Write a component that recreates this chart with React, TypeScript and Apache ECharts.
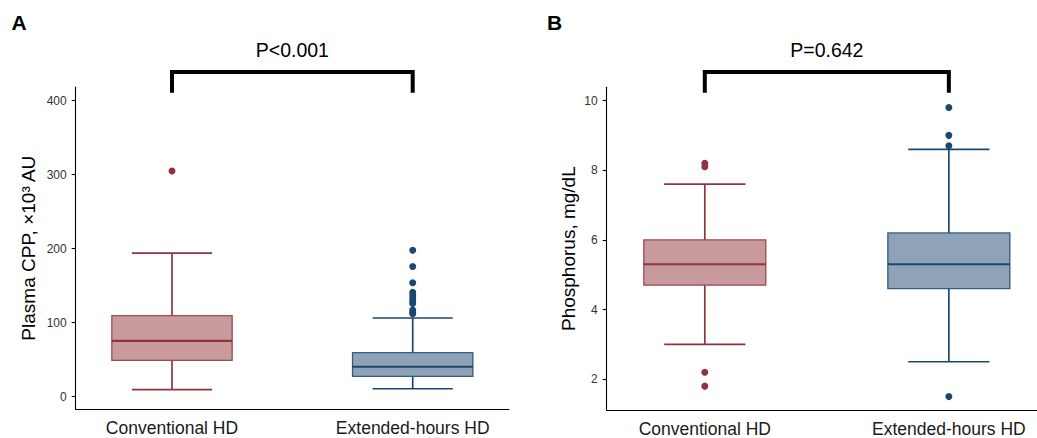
import React, { useEffect, useRef } from 'react';
import * as echarts from 'echarts';

const categories = ['Conventional HD', 'Extended-hours HD'];
// five-number summaries: [lower whisker, Q1, median, Q3, upper whisker]
const cppConventional = [9.5, 49, 75.5, 109.5, 194];
const cppExtended = [10.8, 27.6, 40.5, 59.5, 106.4];
const cppConvOutliers = [305];
const cppExtOutliers = [198, 176, 154, 141, 137, 133, 129, 126, 117, 114, 112];
const phosConventional = [3.0, 4.7, 5.3, 6.0, 7.6];
const phosExtended = [2.5, 4.6, 5.3, 6.2, 8.6];
const phosConvOutliers = [8.2, 8.1, 2.2, 1.8];
const phosExtOutliers = [9.8, 9.0, 8.7, 1.5];
const cppTicks = [0, 100, 200, 300, 400];
const phosTicks = [2, 4, 6, 8, 10];
const pLabels = ['P<0.001', 'P=0.642'];
const panelLabels = ['A', 'B'];
const yNames = ['Plasma CPP, ×10³ AU', 'Phosphorus, mg/dL'];

const RED_LINE = '#8F343D';
const RED_FILL = '#C89A9C';
const BLUE_LINE = '#1B4770';
const BLUE_FILL = '#8EA3B7';
const LINE_COLORS = [RED_LINE, BLUE_LINE];
const FILL_COLORS = [RED_FILL, BLUE_FILL];
const BOX_W = 0.5;
const CAP_W = 0.333;
const FONT = '"Liberation Sans", Arial, Helvetica, sans-serif';

const renderBox = (params: any, api: any) => {
  const x = api.value(0);
  const low = api.value(1);
  const q1 = api.value(2);
  const med = api.value(3);
  const q3 = api.value(4);
  const high = api.value(5);
  const bw = api.size([BOX_W, 0])[0];
  const cw = api.size([CAP_W, 0])[0];
  const cx = api.coord([x, med])[0];
  const yLow = api.coord([x, low])[1];
  const yQ1 = api.coord([x, q1])[1];
  const yMed = api.coord([x, med])[1];
  const yQ3 = api.coord([x, q3])[1];
  const yHigh = api.coord([x, high])[1];
  const col = LINE_COLORS[params.dataIndex];
  const fill = FILL_COLORS[params.dataIndex];
  const ls = { stroke: col, lineWidth: 1.7 };
  return {
    type: 'group',
    children: [
      { type: 'line', shape: { x1: cx, y1: yQ3, x2: cx, y2: yHigh }, style: ls },
      { type: 'line', shape: { x1: cx, y1: yQ1, x2: cx, y2: yLow }, style: ls },
      { type: 'line', shape: { x1: cx - cw / 2, y1: yHigh, x2: cx + cw / 2, y2: yHigh }, style: ls },
      { type: 'line', shape: { x1: cx - cw / 2, y1: yLow, x2: cx + cw / 2, y2: yLow }, style: ls },
      {
        type: 'rect',
        shape: { x: cx - bw / 2, y: yQ3, width: bw, height: yQ1 - yQ3 },
        style: { fill, stroke: col, lineWidth: 1.3, strokeOpacity: 0.85 } as any,
      },
      { type: 'line', shape: { x1: cx - bw / 2, y1: yMed, x2: cx + bw / 2, y2: yMed }, style: { stroke: col, lineWidth: 2.2 } },
    ],
  };
};

const boxData = (a: number[], b: number[]) => [[1, ...a], [2, ...b]];

export default function App() {
  const ref = useRef<HTMLDivElement>(null);
  useEffect(() => {
    document.body.style.margin = '0';
    if (!ref.current) return;
    const chart = echarts.init(ref.current, null, { renderer: 'svg' });

    const xAxisCommon = (gridIndex: number, min: number, max: number) => ({
      type: 'value',
      gridIndex,
      min,
      max,
      axisLine: { show: true, onZero: false, lineStyle: { color: '#000', width: 1.1 } },
      axisTick: { show: false },
      splitLine: { show: false },
      axisLabel: {
        customValues: [1, 2],
        formatter: (v: number) => categories[Math.round(v) - 1] ?? '',
        fontSize: 17.5,
        fontFamily: FONT,
        color: '#1a1a1a',
        margin: 10,
      },
    });
    const yAxisCommon = (gridIndex: number, min: number, max: number, ticks: number[], name: string, nameGap: number) => ({
      type: 'value',
      gridIndex,
      min,
      max,
      name,
      nameLocation: 'middle',
      nameGap,
      nameTextStyle: { fontSize: 19, fontFamily: FONT, color: '#000' },
      axisLine: { show: true, onZero: false, lineStyle: { color: '#000', width: 1.1 } },
      axisTick: { show: true, length: 4, customValues: ticks, lineStyle: { color: '#000', width: 1.1 } },
      splitLine: { show: false },
      axisLabel: { customValues: ticks, fontSize: 12, fontFamily: FONT, color: '#333', margin: 9 },
    });

    const scatter = (xi: number, cat: number, vals: number[], color: string) => ({
      type: 'scatter',
      xAxisIndex: xi,
      yAxisIndex: xi,
      symbolSize: 7,
      itemStyle: { color, opacity: 1 },
      data: vals.map((v) => [cat, v]),
      z: 3,
    });

    const option: any = {
      animation: false,
      textStyle: { fontFamily: FONT },
      grid: [
        { left: 75.7, top: 87, width: 433.3, height: 322.3 },
        { left: 606.7, top: 87.3, width: 430, height: 324.7 },
      ],
      xAxis: [xAxisCommon(0, 0.6, 2.4), xAxisCommon(1, 0.598, 2.36)],
      yAxis: [
        yAxisCommon(0, -17, 418.5, cppTicks, yNames[0], 38),
        yAxisCommon(1, 1.115, 10.38, phosTicks, yNames[1], 29),
      ],
      series: [
        {
          type: 'custom',
          xAxisIndex: 0,
          yAxisIndex: 0,
          renderItem: renderBox,
          encode: { x: 0, y: [1, 2, 3, 4, 5] },
          data: boxData(cppConventional, cppExtended),
        },
        {
          type: 'custom',
          xAxisIndex: 1,
          yAxisIndex: 1,
          renderItem: renderBox,
          encode: { x: 0, y: [1, 2, 3, 4, 5] },
          data: boxData(phosConventional, phosExtended),
        },
        scatter(0, 1, cppConvOutliers, RED_LINE),
        scatter(0, 2, cppExtOutliers, BLUE_LINE),
        scatter(1, 1, phosConvOutliers, RED_LINE),
        scatter(1, 2, phosExtOutliers, BLUE_LINE),
      ],
    };
    chart.setOption(option);

    const graphics: any[] = [];
    const labelX = [11.5, 547];
    [0, 1].forEach((i) => {
      const x1 = chart.convertToPixel({ xAxisIndex: i }, 1) as number;
      const x2 = chart.convertToPixel({ xAxisIndex: i }, 2) as number;
      graphics.push({
        type: 'polyline',
        shape: { points: [[x1, 92.7], [x1, 72], [x2, 72], [x2, 92.7]] },
        style: { stroke: '#000', lineWidth: 4, fill: 'none', lineJoin: 'miter' },
      });
      graphics.push({
        type: 'text',
        x: (x1 + x2) / 2,
        y: 50,
        style: {
          text: pLabels[i],
          fontSize: 19.5,
          fontFamily: FONT,
          fill: '#000',
          align: 'center',
          verticalAlign: 'middle',
        },
      });
      graphics.push({
        type: 'text',
        x: labelX[i],
        y: 22.5,
        style: {
          text: panelLabels[i],
          fontSize: 21,
          fontWeight: 'bold',
          fontFamily: FONT,
          fill: '#000',
          align: 'left',
          verticalAlign: 'middle',
        },
      });
    });
    chart.setOption({ graphic: graphics });

    return () => chart.dispose();
  }, []);
  return <div ref={ref} style={{ width: 1037, height: 438 }} />;
}
